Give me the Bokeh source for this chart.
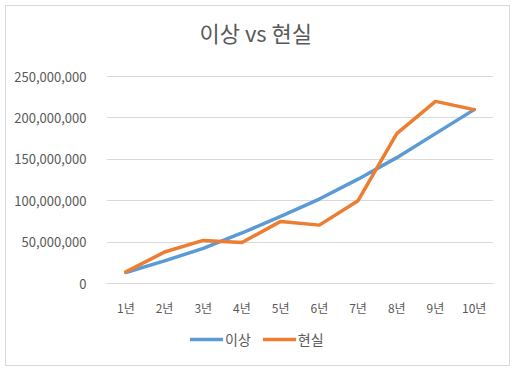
from bokeh.plotting import figure
from bokeh.models import (Range1d, FactorRange, FixedTicker, NumeralTickFormatter,
                          Legend, LegendItem, ColumnDataSource)
from bokeh.embed import file_html
from bokeh.resources import INLINE

years = ["1년", "2년", "3년", "4년", "5년", "6년", "7년", "8년", "9년", "10년"]
ideal = [13.3e6, 27.3e6, 42.5e6, 61e6, 81e6, 102e6, 126e6, 152e6, 181e6, 210e6]
real = [14e6, 38e6, 52e6, 49.5e6, 75e6, 70.5e6, 100e6, 181e6, 220e6, 210e6]
y_ticks = [0, 50e6, 100e6, 150e6, 200e6, 250e6]

FONT = "Noto Sans CJK KR"
GREY = "#595959"

src = ColumnDataSource(dict(x=years, ideal=ideal, real=real))

# layout (px): frame from local y=45 to 355; 250M gridline at 70, zero at 277
FRAME_TOP, FRAME_BOTTOM, Y250, Y0 = 45, 355, 70, 277
scale = (Y0 - Y250) / y_ticks[-1]
y_top = (Y0 - FRAME_TOP) / scale
y_bottom = -(FRAME_BOTTOM - Y0) / scale

p = figure(width=505, height=361, output_backend="svg", toolbar_location=None,
           x_range=FactorRange(*years, range_padding=0),
           y_range=Range1d(y_bottom, y_top),
           min_border_left=100, min_border_right=18, min_border_top=FRAME_TOP,
           min_border_bottom=361 - FRAME_BOTTOM,
           title="이상 vs 현실")
p.styles = {"border": "1px solid #d9d9d9", "box-sizing": "border-box", "margin": "5px"}

p.title.align = "left"
p.title.offset = 93
p.title.text_font = FONT
p.title.text_font_size = "22px"
p.title.text_font_style = "normal"
p.title.text_color = GREY
p.title.standoff = 7

r1 = p.line("x", "ideal", source=src, line_color="#5B9BD5", line_width=3.5, line_cap="round", line_join="round")
r2 = p.line("x", "real", source=src, line_color="#ED7D31", line_width=3.5, line_cap="round", line_join="round")

p.outline_line_color = None
p.xgrid.grid_line_color = None
p.ygrid.grid_line_color = "#d9d9d9"
p.ygrid.grid_line_width = 1

p.yaxis.ticker = FixedTicker(ticks=y_ticks)
p.yaxis.formatter = NumeralTickFormatter(format="0,0")
p.yaxis.axis_line_color = None
p.yaxis.major_tick_line_color = None
p.yaxis.minor_tick_line_color = None
p.yaxis.major_label_text_font = FONT
p.yaxis.major_label_text_font_size = "13px"
p.yaxis.major_label_text_color = GREY
p.yaxis.major_label_standoff = 14

p.xaxis.fixed_location = 0
p.xaxis.axis_line_color = "#d9d9d9"
p.xaxis.major_tick_line_color = None
p.xaxis.minor_tick_line_color = None
p.xaxis.major_label_text_font = FONT
p.xaxis.major_label_text_font_size = "12px"
p.xaxis.major_label_text_color = GREY
p.xaxis.major_label_standoff = 9

legend = Legend(items=[LegendItem(label="이상", renderers=[r1]),
                       LegendItem(label="현실", renderers=[r2])],
                orientation="horizontal", location=(84, 12))
legend.border_line_color = None
legend.background_fill_alpha = 0
legend.label_text_font = FONT
legend.label_text_font_size = "14px"
legend.label_text_color = GREY
legend.glyph_width = 33
legend.label_standoff = 2
legend.spacing = 12
legend.padding = 0
legend.margin = 0
p.add_layout(legend)

open("out.html", "w").write(file_html(p, INLINE))
